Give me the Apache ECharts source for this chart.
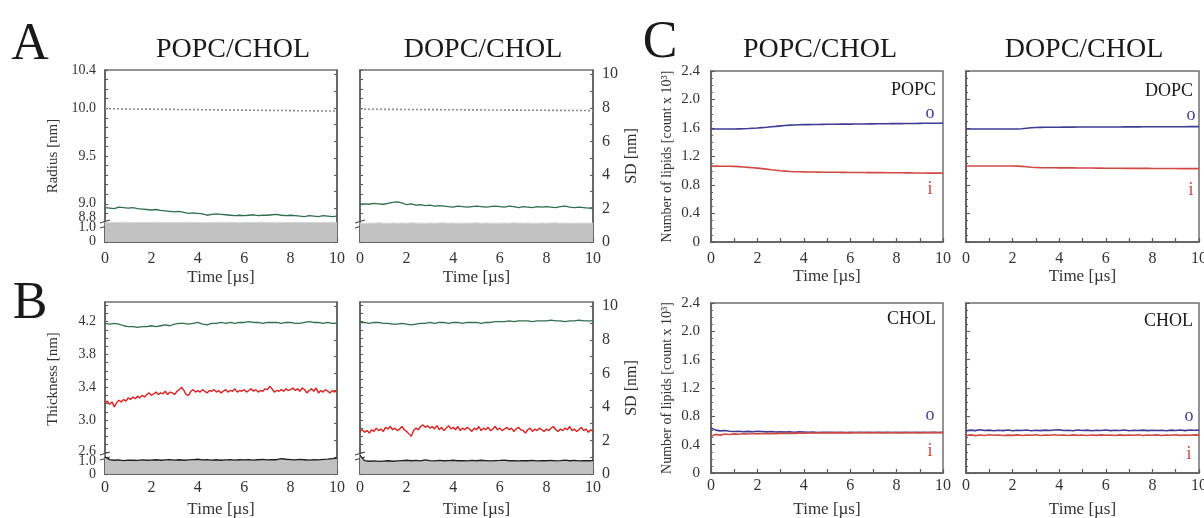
<!DOCTYPE html>
<html><head><meta charset="utf-8">
<script src="https://cdn.jsdelivr.net/npm/echarts@6/dist/echarts.min.js"></script>
<style>html,body{margin:0;padding:0;background:#fff}#c{width:1204px;height:518px}</style>
</head><body><div id="c"></div>
<script>
// ---------------- DATA ----------------
const time51 = [0,0.2,0.4,0.6,0.8,1,1.2,1.4,1.6,1.8,2,2.2,2.4,2.6,2.8,3,3.2,3.4,3.6,3.8,4,4.2,4.4,4.6,4.8,5,5.2,5.4,5.6,5.8,6,6.2,6.4,6.6,6.8,7,7.2,7.4,7.6,7.8,8,8.2,8.4,8.6,8.8,9,9.2,9.4,9.6,9.8,10];
const time101 = [0,0.1,0.2,0.3,0.4,0.5,0.6,0.7,0.8,0.9,1,1.1,1.2,1.3,1.4,1.5,1.6,1.7,1.8,1.9,2,2.1,2.2,2.3,2.4,2.5,2.6,2.7,2.8,2.9,3,3.1,3.2,3.3,3.4,3.5,3.6,3.7,3.8,3.9,4,4.1,4.2,4.3,4.4,4.5,4.6,4.7,4.8,4.9,5,5.1,5.2,5.3,5.4,5.5,5.6,5.7,5.8,5.9,6,6.1,6.2,6.3,6.4,6.5,6.6,6.7,6.8,6.9,7,7.1,7.2,7.3,7.4,7.5,7.6,7.7,7.8,7.9,8,8.1,8.2,8.3,8.4,8.5,8.6,8.7,8.8,8.9,9,9.1,9.2,9.3,9.4,9.5,9.6,9.7,9.8,9.9,10];
const refTime = [0,10];

// Panel A: radius (left axis) and SD (right axis)
const radiusRefPOPC = [9.995, 9.97];
const radiusRefDOPC = [9.99, 9.975];
const radiusPOPC = [8.96,8.955,8.95,8.965,8.96,8.955,8.96,8.95,8.945,8.94, 8.935,8.94,8.93,8.925,8.92,8.915,8.92,8.91,8.90,8.905, 8.90,8.895,8.88,8.89,8.895,8.89,8.885,8.88,8.875,8.88, 8.875,8.88,8.885,8.875,8.88,8.88,8.885,8.89,8.88,8.875, 8.88,8.875,8.87,8.865,8.875,8.87,8.865,8.875,8.87,8.865, 8.87];
const radiusDOPC = [8.995,9.0,8.995,9.005,9.0,8.995,9.005,9.015,9.02,9.01, 8.99,9.0,8.985,8.99,8.98,8.985,8.975,8.98,8.975,8.97, 8.965,8.975,8.97,8.965,8.97,8.975,8.97,8.965,8.97,8.975, 8.97,8.965,8.975,8.97,8.96,8.97,8.965,8.96,8.97,8.965, 8.97,8.965,8.96,8.97,8.975,8.965,8.96,8.965,8.96,8.955, 8.96];
const radiusSdPOPC = [1.16,1.15,1.17,1.16,1.18,1.16,1.15,1.17,1.16,1.17, 1.16,1.18,1.17,1.16,1.15,1.17,1.16,1.17,1.18,1.16, 1.17,1.16,1.15,1.16,1.17,1.18,1.16,1.17,1.16,1.15, 1.16,1.17,1.16,1.18,1.17,1.16,1.17,1.15,1.16,1.17, 1.16,1.17,1.18,1.16,1.17,1.16,1.15,1.17,1.16,1.17, 1.16];
const radiusSdDOPC = [1.12,1.11,1.13,1.12,1.14,1.12,1.11,1.13,1.12,1.13, 1.12,1.14,1.13,1.12,1.11,1.13,1.12,1.13,1.14,1.12, 1.13,1.12,1.11,1.12,1.13,1.14,1.12,1.13,1.12,1.11, 1.12,1.13,1.12,1.14,1.13,1.12,1.13,1.11,1.12,1.13, 1.12,1.13,1.14,1.12,1.13,1.12,1.11,1.13,1.12,1.13, 1.12];

// Panel B: thickness (left axis) and SD (right axis)
const thickGreenPOPC = [4.18,4.17,4.18,4.17,4.15,4.14,4.14,4.13,4.14,4.14, 4.15,4.14,4.15,4.16,4.15,4.17,4.18,4.18,4.17,4.18, 4.19,4.17,4.16,4.18,4.18,4.19,4.18,4.19,4.18,4.19, 4.19,4.20,4.19,4.19,4.18,4.19,4.19,4.19,4.18,4.19, 4.19,4.18,4.18,4.19,4.20,4.19,4.19,4.18,4.19,4.18, 4.18];
const thickGreenDOPC = [4.19,4.19,4.18,4.19,4.19,4.18,4.18,4.17,4.17,4.18, 4.17,4.16,4.17,4.18,4.18,4.19,4.18,4.19,4.19,4.18, 4.19,4.19,4.18,4.19,4.19,4.19,4.18,4.19,4.19,4.20, 4.20,4.20,4.21,4.20,4.21,4.21,4.21,4.20,4.21,4.21, 4.21,4.22,4.21,4.21,4.20,4.21,4.21,4.22,4.21,4.21, 4.21];
const thickRedPOPC = [3.21,3.23,3.19,3.22,3.16,3.21,3.24,3.22,3.25,3.23, 3.27,3.25,3.28,3.26,3.29,3.27,3.30,3.28,3.31,3.33, 3.30,3.32,3.34,3.31,3.33,3.32,3.35,3.31,3.34,3.33, 3.31,3.35,3.37,3.40,3.36,3.31,3.30,3.35,3.37,3.34, 3.36,3.34,3.37,3.35,3.33,3.36,3.35,3.37,3.34,3.36, 3.33,3.35,3.37,3.34,3.36,3.35,3.38,3.34,3.36,3.35, 3.37,3.34,3.36,3.38,3.35,3.37,3.34,3.36,3.35,3.38, 3.37,3.41,3.38,3.34,3.36,3.35,3.37,3.35,3.38,3.36, 3.37,3.39,3.36,3.38,3.35,3.39,3.37,3.33,3.36,3.38, 3.35,3.39,3.33,3.36,3.34,3.37,3.35,3.33,3.36,3.34, 3.37];
const thickRedDOPC = [2.86,2.88,2.85,2.87,2.84,2.88,2.86,2.90,2.87,2.89, 2.86,2.91,2.89,2.92,2.88,2.90,2.87,2.89,2.92,2.88, 2.86,2.83,2.80,2.87,2.90,2.88,2.92,2.94,2.91,2.93, 2.90,2.92,2.89,2.93,2.88,2.91,2.87,2.90,2.93,2.89, 2.91,2.88,2.92,2.87,2.90,2.88,2.91,2.89,2.86,2.90, 2.88,2.92,2.87,2.90,2.88,2.91,2.87,2.89,2.92,2.88, 2.90,2.87,2.89,2.91,2.88,2.90,2.86,2.89,2.91,2.88, 2.87,2.84,2.88,2.90,2.86,2.89,2.87,2.90,2.88,2.86, 2.89,2.87,2.90,2.92,2.88,2.86,2.89,2.87,2.90,2.88, 2.92,2.87,2.89,2.86,2.88,2.91,2.87,2.89,2.85,2.88, 2.86];
const thickSdPOPC = [1.02,0.86,0.82,0.84,0.80,0.83,0.82,0.81,0.84,0.82, 0.83,0.85,0.82,0.84,0.86,0.83,0.85,0.82,0.84,0.86, 0.88,0.84,0.86,0.83,0.85,0.82,0.84,0.86,0.83,0.85, 0.84,0.86,0.83,0.85,0.87,0.84,0.86,0.85,0.92,0.88, 0.86,0.84,0.87,0.85,0.83,0.86,0.84,0.87,0.89,0.92, 0.95];
const thickSdDOPC = [1.10,0.80,0.76,0.78,0.75,0.77,0.79,0.76,0.78,0.80, 0.82,0.79,0.81,0.78,0.84,0.80,0.78,0.81,0.79,0.80, 0.82,0.79,0.80,0.78,0.81,0.79,0.82,0.80,0.78,0.80, 0.81,0.83,0.79,0.80,0.78,0.80,0.79,0.81,0.78,0.80, 0.79,0.81,0.78,0.80,0.83,0.79,0.81,0.78,0.80,0.79, 0.80];

// Panel C: number of lipids (count x 10^3), outer (o) and inner (i) leaflets
const popcOuter = [1.585,1.585,1.585,1.585,1.585,1.585,1.588,1.59,1.593,1.597, 1.60,1.605,1.61,1.617,1.623,1.63,1.635,1.64,1.643,1.645, 1.647,1.648,1.65,1.65,1.651,1.652,1.652,1.653,1.654,1.655, 1.655,1.656,1.657,1.657,1.658,1.658,1.659,1.66,1.66,1.661, 1.662,1.662,1.663,1.664,1.664,1.665,1.666,1.666,1.667,1.667, 1.668];
const popcInner = [1.065,1.065,1.064,1.064,1.063,1.062,1.058,1.053,1.048,1.043, 1.037,1.03,1.023,1.015,1.008,1.0,0.995,0.99,0.987,0.985, 0.984,0.983,0.982,0.981,0.98,0.979,0.978,0.978,0.977,0.977, 0.976,0.976,0.975,0.975,0.974,0.974,0.973,0.973,0.972,0.972, 0.971,0.971,0.97,0.97,0.969,0.968,0.968,0.967,0.967,0.966, 0.966];
const dopcOuter = [1.586,1.586,1.586,1.586,1.586,1.586,1.586,1.586,1.586,1.586, 1.586,1.587,1.59,1.597,1.603,1.607,1.609,1.61,1.61,1.611, 1.611,1.612,1.612,1.612,1.613,1.613,1.613,1.614,1.614,1.614, 1.615,1.615,1.615,1.615,1.616,1.616,1.616,1.616,1.617,1.617, 1.617,1.617,1.617,1.618,1.618,1.618,1.618,1.618,1.619,1.619, 1.619];
const dopcInner = [1.067,1.067,1.067,1.067,1.067,1.067,1.067,1.067,1.067,1.067, 1.066,1.065,1.062,1.056,1.05,1.046,1.044,1.043,1.042,1.042, 1.041,1.041,1.04,1.04,1.039,1.039,1.038,1.038,1.037,1.037, 1.036,1.036,1.035,1.035,1.034,1.034,1.034,1.033,1.033,1.033, 1.032,1.032,1.032,1.031,1.031,1.031,1.03,1.03,1.03,1.03, 1.03];
const cholOuterPOPC = [0.635,0.605,0.595,0.60,0.59,0.585,0.59,0.582,0.588,0.583, 0.59,0.585,0.58,0.586,0.579,0.583,0.578,0.582,0.576,0.58, 0.578,0.574,0.577,0.572,0.576,0.573,0.575,0.571,0.574,0.572, 0.575,0.571,0.574,0.572,0.575,0.571,0.573,0.57,0.574,0.571, 0.573,0.57,0.574,0.571,0.573,0.57,0.574,0.571,0.573,0.572, 0.574];
const cholInnerPOPC = [0.52,0.545,0.535,0.55,0.543,0.552,0.548,0.555,0.55,0.557, 0.553,0.558,0.554,0.56,0.556,0.562,0.558,0.563,0.56,0.565, 0.562,0.567,0.564,0.568,0.565,0.569,0.566,0.57,0.567,0.569, 0.567,0.57,0.568,0.571,0.567,0.57,0.568,0.571,0.568,0.57, 0.568,0.571,0.569,0.572,0.568,0.571,0.569,0.572,0.57,0.571, 0.57];
const cholOuterDOPC = [0.595,0.605,0.598,0.61,0.6,0.605,0.596,0.603,0.598,0.606, 0.597,0.604,0.599,0.606,0.597,0.603,0.598,0.605,0.6,0.608, 0.61,0.6,0.604,0.597,0.608,0.601,0.605,0.597,0.603,0.599, 0.606,0.598,0.604,0.6,0.606,0.597,0.603,0.599,0.605,0.598, 0.604,0.599,0.603,0.597,0.605,0.6,0.606,0.598,0.607,0.603, 0.605];
const cholInnerDOPC = [0.53,0.538,0.528,0.536,0.53,0.54,0.532,0.537,0.529,0.535, 0.531,0.538,0.53,0.536,0.532,0.539,0.53,0.536,0.533,0.54, 0.532,0.537,0.53,0.538,0.533,0.536,0.529,0.537,0.531,0.538, 0.532,0.536,0.53,0.538,0.531,0.537,0.533,0.539,0.53,0.536, 0.532,0.538,0.53,0.536,0.533,0.539,0.531,0.537,0.534,0.538, 0.535];

// Tick labels (broken axes: lower segment labels sit under the break)
const radiusLabelValues = [8.602, 8.75, 8.86, 9.0, 9.5, 10.0, 10.4];
const radiusLabelTexts  = ['0', '1.0', '8.8', '9.0', '9.5', '10.0', '10.4'];
const thickLabelValues  = [2.342, 2.62, 3.0, 3.4, 3.8, 4.2];
const thickLabelTexts   = ['0', '2.6', '3.0', '3.4', '3.8', '4.2'];
const thickBreakLabelValues = [2.49];
const thickBreakLabelTexts  = ['1.0'];
const sdLabelValues = [0, 2, 4, 6, 8, 10];
const sdLabelTexts  = ['0', '2', '4', '6', '8', '10'];

// ---------------- CHART ----------------
const FONT = "'Liberation Serif','Times New Roman',serif";
const AX = '#5a5a5a';
const pts = (t, v) => t.map((x, i) => [x, v[i]]);
const lookup = (vals, texts) => v => { const i = vals.findIndex(x => Math.abs(x - v) < 1e-6); return i >= 0 ? texts[i] : ''; };
const stepTicks = (a, b, s) => { const r = []; for (let k = Math.round(a / s); k <= Math.round(b / s) + 1e-9; k++) r.push(+(k * s).toFixed(4)); return r; };

const grids = [
  {left:105, top:70, width:232, height:172},
  {left:360, top:70, width:233, height:172},
  {left:105, top:302, width:232, height:172},
  {left:360, top:302, width:233, height:172},
  {left:711, top:71, width:232, height:171},
  {left:966, top:71, width:233, height:171},
  {left:711, top:303, width:232, height:170},
  {left:966, top:303, width:233, height:170}
].map(g => Object.assign({show:true, borderColor:'#707070', borderWidth:1.5, backgroundColor:'transparent', containLabel:false, outerBoundsMode:'none'}, g));

const xMargins = [9, 9, 6, 6, 9, 9, 5, 5];
const xGaps    = [27, 27, 27, 27, 26, 26, 28, 28];
const xAxes = grids.map((g, i) => ({
  type:'value', gridIndex:i, min:0, max:10, interval:1,
  axisLine:{show:true, onZero:false, lineStyle:{color:AX, width:1.5}},
  axisTick:{show:true, inside:true, length:4, lineStyle:{color:AX, width:1.2}},
  axisLabel:{formatter: v => (v % 2 === 0 ? String(v) : ''), fontFamily:FONT, fontSize:16, color:'#333', margin:xMargins[i], hideOverlap:false},
  splitLine:{show:false},
  name:'Time [µs]', nameLocation:'middle', nameGap:xGaps[i],
  nameTextStyle:{fontFamily:FONT, fontSize:17, color:'#333'}
}));

function yAx(c) {
  return {
    type:'value', gridIndex:c.grid, position:c.pos, min:c.min, max:c.max,
    interval: c.interval,
    axisLine:{show:c.noLine ? false : true, onZero:false, lineStyle:{color:AX, width:1.5}},
    axisTick:{show:c.noLine ? false : true, inside:true, length:c.tl || 3, customValues:c.ticks, lineStyle:{color:AX, width:1.1}},
    minorTick: c.minor ? {show:true, splitNumber:4, length:2, lineStyle:{color:AX}} : {show:false},
    axisLabel:{show:!!c.labels, customValues:c.labelVals, formatter:c.fmt, fontFamily:FONT, fontSize:c.fs || 14, color:'#333', margin:c.margin || 9,
      hideOverlap:false, showMinLabel:true, showMaxLabel:true},
    splitLine:{show:false},
    name:c.name || '', nameLocation:'middle', nameGap:c.gap || 40, nameRotate:90,
    nameTextStyle:{fontFamily:FONT, fontSize:c.nfs || 15, color:'#333', padding:c.npad || 0}
  };
}
const radiusTicks = [8.602, 8.75].concat(stepTicks(8.9, 10.4, 0.1));
const thickTicks = [2.342, 2.49].concat(stepTicks(2.6, 4.4, 0.1));
const sdTicks = stepTicks(0, 10, 1);
const radFmt = lookup(radiusLabelValues, radiusLabelTexts);
const thkFmt = lookup(thickLabelValues, thickLabelTexts);
const thkBrkFmt = lookup(thickBreakLabelValues, thickBreakLabelTexts);
const sdFmt = lookup(sdLabelValues, sdLabelTexts);
const cntFmt = v => (v === 0 ? '0' : v.toFixed(1));

const yAxes = [
  yAx({grid:0, pos:'left', min:8.6, max:10.4, ticks:radiusTicks, labels:true, labelVals:radiusLabelValues, fmt:radFmt, name:'Radius [nm]', gap:44, fs:14}),
  yAx({grid:0, pos:'right', min:0, max:10.25, ticks:sdTicks}),
  yAx({grid:1, pos:'left', min:8.6, max:10.4, ticks:radiusTicks}),
  yAx({grid:1, pos:'right', min:0, max:10.25, ticks:sdTicks, labels:true, labelVals:sdLabelValues, fmt:sdFmt, name:'SD [nm]', gap:31, fs:16, nfs:16}),
  yAx({grid:2, pos:'left', min:2.34, max:4.44, ticks:thickTicks, labels:true, labelVals:thickLabelValues, fmt:thkFmt, name:'Thickness [nm]', gap:44, fs:14, npad:[0,0,0,18]}),
  yAx({grid:2, pos:'right', min:0, max:10.25, ticks:sdTicks}),
  yAx({grid:3, pos:'left', min:2.34, max:4.44, ticks:thickTicks}),
  yAx({grid:3, pos:'right', min:0, max:10.25, ticks:sdTicks, labels:true, labelVals:sdLabelValues, fmt:sdFmt, name:'SD [nm]', gap:31, fs:16, nfs:16}),
  yAx({grid:4, pos:'left', min:0, max:2.4, interval:0.4, minor:true, tl:4, labels:true, fmt:cntFmt, fs:15, margin:11, name:'Number of lipids [count x 10³]', gap:37, nfs:14}),
  yAx({grid:5, pos:'left', min:0, max:2.4, interval:0.4, minor:true, tl:4}),
  yAx({grid:6, pos:'left', min:0, max:2.4, interval:0.4, minor:true, tl:4, labels:true, fmt:cntFmt, fs:15, margin:11, name:'Number of lipids [count x 10³]', gap:37, nfs:14}),
  yAx({grid:7, pos:'left', min:0, max:2.4, interval:0.4, minor:true, tl:4}),
  // extra label-only axis for the "1.0" label under the thickness axis break
  yAx({grid:2, pos:'left', min:2.34, max:4.44, noLine:true, labels:true, labelVals:thickBreakLabelValues, fmt:thkBrkFmt, fs:14})
];

function line(xi, yi, t, v, color, width, extra) {
  return Object.assign({type:'line', xAxisIndex:xi, yAxisIndex:yi, data:pts(t, v), showSymbol:false, symbol:'none', silent:true,
    animation:false, lineStyle:{color:color, width:width}}, extra || {});
}
const GREEN = '#2f6e4f', RED = '#d91f1f', BLACK = '#1e1e1e', GRAYF = '#c2c2c2';
const BLUE_C = '#3d3d94', RED_C = '#cf4a42';
const area = {areaStyle:{color:GRAYF, opacity:1}};
const series = [
  line(0, 1, time51, radiusSdPOPC, '#d6d6d6', 1, area),
  line(0, 0, refTime, radiusRefPOPC, '#8c8c8c', 1.6, {lineStyle:{color:'#8c8c8c', width:1.6, type:[2,2]}}),
  line(0, 0, time51, radiusPOPC, GREEN, 1.3),
  line(1, 3, time51, radiusSdDOPC, '#d6d6d6', 1, area),
  line(1, 2, refTime, radiusRefDOPC, '#8c8c8c', 1.6, {lineStyle:{color:'#8c8c8c', width:1.6, type:[2,2]}}),
  line(1, 2, time51, radiusDOPC, GREEN, 1.3),
  line(2, 5, time51, thickSdPOPC, BLACK, 1.3, area),
  line(2, 4, time51, thickGreenPOPC, GREEN, 1.3),
  line(2, 4, time101, thickRedPOPC, RED, 1.4),
  line(3, 7, time51, thickSdDOPC, BLACK, 1.3, area),
  line(3, 6, time51, thickGreenDOPC, GREEN, 1.3),
  line(3, 6, time101, thickRedDOPC, RED, 1.4),
  line(4, 8, time51, popcOuter, BLUE_C, 1.6),
  line(4, 8, time51, popcInner, RED_C, 1.6),
  line(5, 9, time51, dopcOuter, BLUE_C, 1.6),
  line(5, 9, time51, dopcInner, RED_C, 1.6),
  line(6, 10, time51, cholOuterPOPC, BLUE_C, 1.6),
  line(6, 10, time51, cholInnerPOPC, RED_C, 1.6),
  line(7, 11, time51, cholOuterDOPC, BLUE_C, 1.6),
  line(7, 11, time51, cholInnerDOPC, RED_C, 1.6)
];

function txt(x, y, text, size, color, align) {
  return {type:'text', x:x, y:y, silent:true, z:100,
    style:{text:text, fontFamily:FONT, fontSize:size, fill:color || '#1a1a1a', align:align || 'center', verticalAlign:'middle'}};
}
function brk(x, y) {
  return {type:'group', x:x, y:y, z:100, silent:true, children:[
    {type:'rect', shape:{x:-4, y:-3, width:8, height:6}, style:{fill:'#fff'}},
    {type:'line', shape:{x1:-5, y1:-1, x2:5, y2:-4}, style:{stroke:'#444', lineWidth:1.2}},
    {type:'line', shape:{x1:-5, y1:4, x2:5, y2:1}, style:{stroke:'#444', lineWidth:1.2}}
  ]};
}
const graphics = [
  txt(30, 45, 'A', 52), txt(30, 304, 'B', 52), txt(660, 43, 'C', 52),
  txt(233, 50, 'POPC/CHOL', 28), txt(483, 50, 'DOPC/CHOL', 28),
  txt(820, 50, 'POPC/CHOL', 28), txt(1084, 50, 'DOPC/CHOL', 28),
  txt(936, 90, 'POPC', 18, '#1a1a1a', 'right'), txt(930, 113, 'o', 18, BLUE_C), txt(930, 189, 'i', 18, RED_C),
  txt(1193, 91, 'DOPC', 18, '#1a1a1a', 'right'), txt(1191, 115, 'o', 18, BLUE_C), txt(1191, 190, 'i', 18, RED_C),
  txt(936, 319, 'CHOL', 18, '#1a1a1a', 'right'), txt(930, 415, 'o', 18, BLUE_C), txt(930, 451, 'i', 18, RED_C),
  txt(1193, 321, 'CHOL', 18, '#1a1a1a', 'right'), txt(1189, 416, 'o', 18, BLUE_C), txt(1189, 454, 'i', 18, RED_C),
  brk(105, 224), brk(360, 224), brk(105, 456), brk(360, 456)
];

const chart = echarts.init(document.getElementById('c'), null, {renderer:'canvas'});
chart.setOption({
  animation:false,
  backgroundColor:'#ffffff',
  grid:grids, xAxis:xAxes, yAxis:yAxes, series:series,
  graphic:{elements:graphics}
});
</script></body></html>
